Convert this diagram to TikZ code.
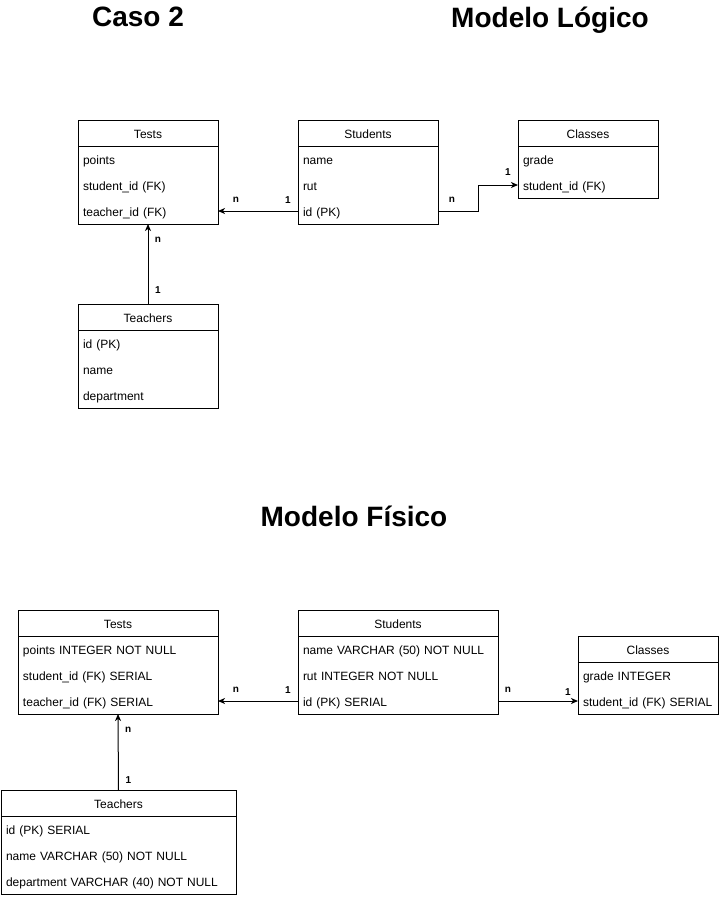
\documentclass[tikz,border=0pt]{standalone}
\usepackage{fontspec}
\setmainfont{Liberation Sans}
\usetikzlibrary{arrows.meta, positioning}

\begin{document}
\begin{tikzpicture}[x=1pt, y=-1pt,
        every node/.style={font=\fontsize{12}{14}\selectfont},
        hdr/.style={rectangle, draw=black, line width=1pt, minimum width=#1, minimum height=26pt, text height=10pt, text depth=0pt, inner sep=0pt, outer sep=0pt, anchor=north west},
        row/.style={rectangle, text width=#1, minimum height=26pt, text height=10pt, text depth=0pt, inner xsep=5pt, inner ysep=0pt, outer sep=0pt, align=left},
        title/.style={font=\fontsize{28}{32}\selectfont\bfseries, anchor=base},
        card/.style={font=\fontsize{10}{12}\selectfont\bfseries, inner sep=0pt},
        rel/.style={-{Stealth[length=7pt, width=6pt, inset=2pt]}, line width=1pt}
    ]
        \useasboundingbox (0,0) rectangle (719,898);

        % Titulos
        \node (caso) [title] at (138,26.5) {Caso 2};
        \node (logico) [title] at (550,27) {Modelo Lógico};
        \node (fisico) [title] at (354,526.5) {Modelo Físico};

        % Modelo logico
        \node (tests) [hdr=140pt] at (78,120) {Tests};
        \node (tests1) [row=130pt, below right=0pt of tests.south west] {points};
        \node (tests2) [row=130pt, below right=0pt of tests1.south west] {student\_id (FK)};
        \node (tests3) [row=130pt, below right=0pt of tests2.south west] {teacher\_id (FK)};
        \draw[line width=1pt] (tests.north west) rectangle (tests3.south east);

        \node (students) [hdr=140pt] at (298,120) {Students};
        \node (students1) [row=130pt, below right=0pt of students.south west] {name};
        \node (students2) [row=130pt, below right=0pt of students1.south west] {rut};
        \node (students3) [row=130pt, below right=0pt of students2.south west] {id (PK)};
        \draw[line width=1pt] (students.north west) rectangle (students3.south east);

        \node (classes) [hdr=140pt] at (518,120) {Classes};
        \node (classes1) [row=130pt, below right=0pt of classes.south west] {grade};
        \node (classes2) [row=130pt, below right=0pt of classes1.south west] {student\_id (FK)};
        \draw[line width=1pt] (classes.north west) rectangle (classes2.south east);

        \node (teachers) [hdr=140pt] at (78,304) {Teachers};
        \node (teachers1) [row=130pt, below right=0pt of teachers.south west] {id (PK)};
        \node (teachers2) [row=130pt, below right=0pt of teachers1.south west] {name};
        \node (teachers3) [row=130pt, below right=0pt of teachers2.south west] {department};
        \draw[line width=1pt] (teachers.north west) rectangle (teachers3.south east);

        \draw[rel] (students3.west) -- node[card, pos=0.125, yshift=11pt] {1} node[card, pos=0.775, yshift=11pt] {n} (tests3.east);
        \draw[rel] (students3.east) -- node[card, pos=0.35, yshift=11pt] {n} ++(40,0) |- node[card, at end, xshift=-10pt, yshift=13pt] {1} (classes2.west);
        \draw[rel] (teachers.north) -- node[card, pos=0.175, xshift=10pt] {1} node[card, pos=0.8, xshift=10pt] {n} (tests3.south);

        % Modelo fisico
        \node (ptests) [hdr=200pt] at (18,610) {Tests};
        \node (ptests1) [row=190pt, below right=0pt of ptests.south west] {points INTEGER NOT NULL};
        \node (ptests2) [row=190pt, below right=0pt of ptests1.south west] {student\_id (FK) SERIAL};
        \node (ptests3) [row=190pt, below right=0pt of ptests2.south west] {teacher\_id (FK) SERIAL};
        \draw[line width=1pt] (ptests.north west) rectangle (ptests3.south east);

        \node (pstudents) [hdr=200pt] at (298,610) {Students};
        \node (pstudents1) [row=190pt, below right=0pt of pstudents.south west] {name VARCHAR (50) NOT NULL};
        \node (pstudents2) [row=190pt, below right=0pt of pstudents1.south west] {rut INTEGER NOT NULL};
        \node (pstudents3) [row=190pt, below right=0pt of pstudents2.south west] {id (PK) SERIAL};
        \draw[line width=1pt] (pstudents.north west) rectangle (pstudents3.south east);

        \node (pclasses) [hdr=140pt] at (578,636) {Classes};
        \node (pclasses1) [row=130pt, below right=0pt of pclasses.south west] {grade INTEGER};
        \node (pclasses2) [row=130pt, below right=0pt of pclasses1.south west] {student\_id (FK) SERIAL};
        \draw[line width=1pt] (pclasses.north west) rectangle (pclasses2.south east);

        \node (pteachers) [hdr=235pt] at (1,790) {Teachers};
        \node (pteachers1) [row=225pt, below right=0pt of pteachers.south west] {id (PK) SERIAL};
        \node (pteachers2) [row=225pt, below right=0pt of pteachers1.south west] {name VARCHAR (50) NOT NULL};
        \node (pteachers3) [row=225pt, below right=0pt of pteachers2.south west] {department VARCHAR (40) NOT NULL};
        \draw[line width=1pt] (pteachers.north west) rectangle (pteachers3.south east);

        \draw[rel] (pstudents3.west) -- node[card, pos=0.125, yshift=11pt] {1} node[card, pos=0.775, yshift=11pt] {n} (ptests3.east);
        \draw[rel] (pstudents3.east) -- node[card, pos=0.125, yshift=11pt] {n} node[card, pos=0.875, yshift=9pt] {1} (pclasses2.west);
        \draw[rel] (pteachers.north) -- node[card, pos=0.13, xshift=10pt] {1} node[card, pos=0.79, xshift=10pt] {n} (ptests3.south);

    \end{tikzpicture}
\end{document}
